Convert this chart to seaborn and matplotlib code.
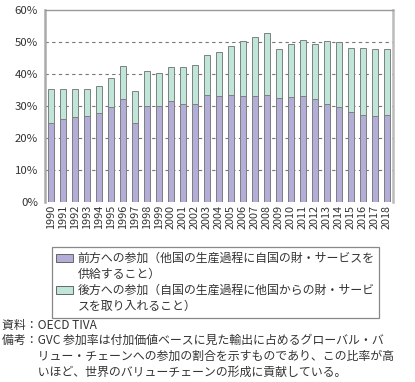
import numpy as np
import pandas as pd
import seaborn as sns
import matplotlib.pyplot as plt
from matplotlib.patches import Patch

years = ['1990', '1991', '1992', '1993', '1994', '1995', '1996', '1997', '1998', '1999',
         '2000', '2001', '2002', '2003', '2004', '2005', '2006', '2007', '2008', '2009',
         '2010', '2011', '2012', '2013', '2014', '2015', '2016', '2017', '2018']
forward = [24.6, 25.9, 26.4, 26.9, 27.8, 29.6, 32.1, 24.5, 29.9, 29.8,
           31.4, 30.5, 30.6, 33.2, 32.9, 33.2, 32.9, 33.1, 33.4, 32.4,
           32.8, 32.9, 32.2, 30.7, 29.5, 28.0, 27.2, 26.9, 27.0]
backward = [10.7, 9.2, 8.9, 8.3, 8.4, 9.0, 10.4, 10.1, 10.8, 10.3,
            10.7, 11.7, 12.2, 12.6, 13.9, 15.5, 17.4, 18.3, 19.2, 15.3,
            16.3, 17.7, 17.1, 19.5, 20.3, 20.0, 20.7, 20.7, 20.8]
yticks = [0, 10, 20, 30, 40, 50, 60]
label_fwd = ['前方への参加（他国の生産過程に自国の財・サービスを', '供給すること）']
label_bwd = ['後方への参加（自国の生産過程に他国からの財・サービ', 'スを取り入れること）']
source = '資料：OECD TIVA'
note = ['備考：GVC 参加率は付加価値ベースに見た輸出に占めるグローバル・バ',
        '　　　リュー・チェーンへの参加の割合を示すものであり、この比率が高',
        '　　　いほど、世界のバリューチェーンの形成に貢献している。']

purple = '#b3aed8'
mint = '#bfe6d8'
edge = '#7f7f7f'

df = pd.DataFrame({'year': years, 'forward': forward, 'backward': backward})
df['total'] = df['forward'] + df['backward']

sns.set_style('white')
plt.rcParams['font.family'] = ['Noto Sans CJK JP', 'DejaVu Sans']

fig = plt.figure(figsize=(4.15, 3.82), dpi=100)
ax = fig.add_axes([45/415, 1-202/382, 348/415, 192.5/382])

sns.barplot(data=df, x='year', y='total', color=mint, saturation=1, width=0.42,
            edgecolor=edge, linewidth=0.7, ax=ax, zorder=3)
sns.barplot(data=df, x='year', y='forward', color=purple, saturation=1, width=0.42,
            edgecolor=edge, linewidth=0.7, ax=ax, zorder=3)

ax.set_ylim(0, 60)
ax.set_yticks(yticks)
ax.set_yticklabels([f'{v}%' for v in yticks])
ax.set_xlabel('')
ax.set_ylabel('')
ax.tick_params(axis='x', labelrotation=90, length=0, pad=2, labelsize=7.8, colors='#333333')
ax.tick_params(axis='y', length=0, pad=5, labelsize=8.2, colors='#333333')
for v in yticks[1:-1]:
    ax.axhline(v, color='#777777', lw=0.8, ls=(0, (3, 3)), zorder=1)
ax.spines['bottom'].set_visible(False)
ax.spines['left'].set_color('#aaaaaa')
ax.spines['left'].set_linewidth(1.8)
ax.spines['right'].set_color('#bbbbbb')
ax.spines['right'].set_linewidth(1.8)
ax.spines['top'].set_color('#999999')
ax.spines['top'].set_linewidth(1.0)

none = Patch(facecolor='none', edgecolor='none')
handles = [Patch(facecolor=purple, edgecolor='#666666', lw=0.7), none,
           Patch(facecolor=mint, edgecolor='#666666', lw=0.7), none]
labels = [label_fwd[0], label_fwd[1], label_bwd[0], label_bwd[1]]
leg = fig.legend(handles, labels, loc='upper left', bbox_to_anchor=(51.7/415, 1-247/382),
                 borderaxespad=0, fontsize=8.6, handlelength=1.4, handleheight=0.65,
                 handletextpad=0.35, labelspacing=0.25, borderpad=0.4, fancybox=False,
                 frameon=True, edgecolor='#888888', framealpha=1)
leg.get_frame().set_linewidth(0.9)
for t in leg.get_texts():
    t.set_color('#333333')

fig.text(2/415, 1-325/382, source, fontsize=8.6, va='center', color='#333333')
fig.text(2/415, 1-333.5/382, '\n'.join(note), fontsize=8.6, va='top', color='#333333',
         linespacing=1.3)

fig.savefig('out.png', dpi=100)
